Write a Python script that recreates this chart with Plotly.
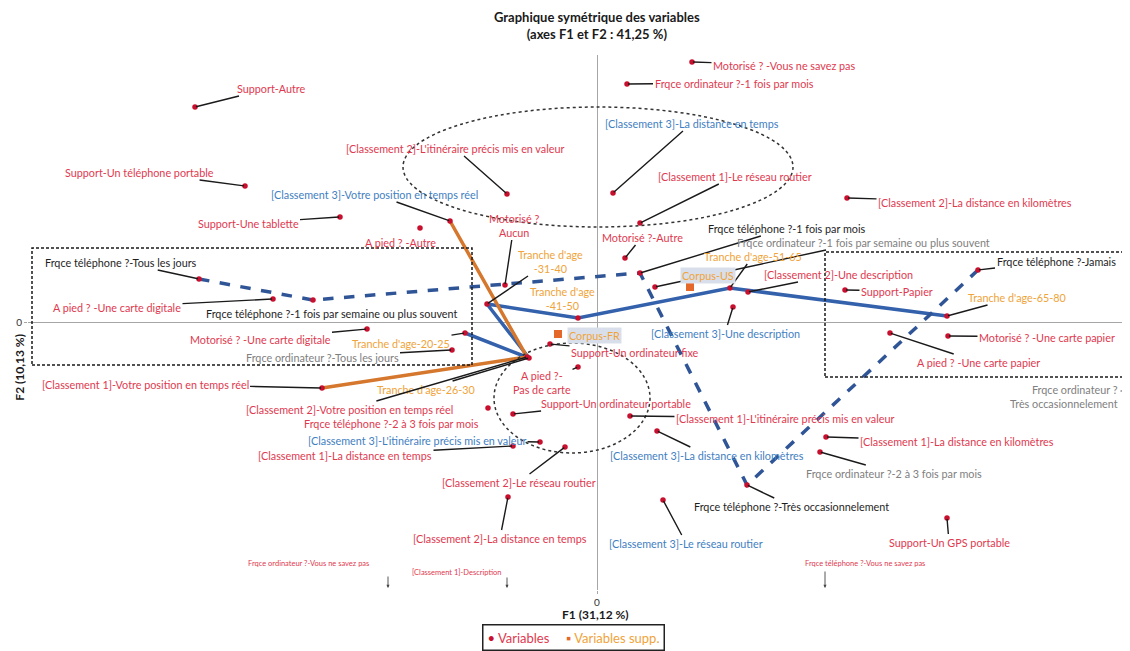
import plotly.graph_objects as go

# Active variables: label, F1, F2
var_labels = [
    "Motorisé ? -Vous ne savez pas",
    "Frqce ordinateur ?-1 fois par mois",
    "Support-Autre",
    "[Classement 3]-La distance en temps",
    "[Classement 2]-L'itinéraire précis mis en valeur",
    "Support-Un téléphone portable",
    "[Classement 1]-Le réseau routier",
    "[Classement 3]-Votre position en temps réel",
    "[Classement 2]-La distance en kilomètres",
    "Support-Une tablette",
    "A pied ? -Autre",
    "Motorisé ? -Aucun",
    "Motorisé ?-Autre",
    "Frqce téléphone ?-1 fois par mois",
    "Frqce ordinateur ?-1 fois par semaine ou plus souvent",
    "Tranche d'age-51-65",
    "[Classement 2]-Une description",
    "Support-Papier",
    "Frqce téléphone ?-Jamais",
    "Tranche d'age-65-80",
    "Frqce téléphone ?-Tous les jours",
    "A pied ? -Une carte digitale",
    "Frqce téléphone ?-1 fois par semaine ou plus souvent",
    "Tranche d'age-31-40",
    "Tranche d'age-41-50",
    "[Classement 3]-Une description",
    "Motorisé ? -Une carte digitale",
    "Tranche d'age-20-25",
    "Frqce ordinateur ?-Tous les jours",
    "Support-Un ordinateur fixe",
    "Motorisé ? -Une carte papier",
    "A pied ? -Une carte papier",
    "[Classement 1]-Votre position en temps réel",
    "Tranche d'age-26-30",
    "[Classement 2]-Votre position en temps réel",
    "A pied ?-Pas de carte",
    "Frqce téléphone ?-2 à 3 fois par mois",
    "Support-Un ordinateur portable",
    "[Classement 1]-L'itinéraire précis mis en valeur",
    "[Classement 3]-L'itinéraire précis mis en valeur",
    "[Classement 1]-La distance en temps",
    "[Classement 3]-La distance en kilomètres",
    "[Classement 1]-La distance en kilomètres",
    "Frqce ordinateur ?-2 à 3 fois par mois",
    "[Classement 2]-Le réseau routier",
    "Frqce téléphone ?-Très occasionnelement",
    "[Classement 2]-La distance en temps",
    "[Classement 3]-Le réseau routier",
    "Support-Un GPS portable",
]
var_f1 = [0.475, 0.150, -2.010, 0.080, -0.450, -1.760, 0.215, -0.735, 1.250, -1.285,
          -0.885, -0.460, 0.140, 0.215, 0.290, 0.665, 0.755, 1.240, 1.905, 1.750,
          -1.990, -1.620, -1.420, -0.550, -0.095, 0.680, -1.150, -0.660, -0.725, -0.235,
          1.755, 1.465, -1.375, -0.340, -0.350, -0.095, -0.545, -0.420, 0.165, -0.285,
          -0.420, 0.300, 1.145, 1.115, -0.160, 0.750, -0.445, 0.330, 1.750]
var_f2 = [1.300, 1.190, 1.075, 0.645, 0.640, 0.680, 0.495, 0.505, 0.620, 0.525,
          0.470, 0.185, 0.320, 0.245, 0.175, 0.170, 0.150, 0.160, 0.260, 0.030,
          0.215, 0.115, 0.110, 0.090, 0.020, 0.075, -0.035, -0.055, -0.140, -0.110,
          -0.070, -0.055, -0.330, -0.180, -0.175, -0.225, -0.430, -0.460, -0.470, -0.600,
          -0.620, -0.545, -0.575, -0.650, -0.625, -0.815, -0.875, -0.890, -0.980]

# Supplementary variables
supp_labels = ["Corpus-US", "Corpus-FR"]
supp_f1 = [0.465, -0.195]
supp_f2 = [0.175, -0.060]

# Modalities lying outside the window (None = off the scale on that axis)
off_labels = ["Frqce ordinateur ?-Vous ne savez pas", "[Classement 1]-Description",
              "Frqce téléphone ?-Vous ne savez pas", "Frqce ordinateur ?-Très occasionnelement"]
off_f1 = [-1.045, -0.450, 1.140, None]
off_f2 = [None, None, None, -0.345]

# Ordered modalities joined by lines
age_path = ["Tranche d'age-20-25", "Tranche d'age-26-30", "Tranche d'age-31-40",
            "Tranche d'age-41-50", "Tranche d'age-51-65", "Tranche d'age-65-80"]
phone_path = ["Frqce téléphone ?-Tous les jours",
              "Frqce téléphone ?-1 fois par semaine ou plus souvent",
              "Frqce téléphone ?-1 fois par mois",
              "Frqce téléphone ?-Très occasionnelement",
              "Frqce téléphone ?-Jamais"]
position_path = ["[Classement 3]-Votre position en temps réel",
                 "[Classement 2]-Votre position en temps réel",
                 "[Classement 1]-Votre position en temps réel"]

# ---- styling / label placement (pixel offsets of the label centre) ----
COL = dict(r="#e0394f", b="#3f80c2", k="#1e1e1e", g="#808080", o="#f0a33a")
label_col = ["r", "r", "r", "b", "r", "r", "r", "b", "r", "r",
             "r", "r", "r", "k", "g", "o", "r", "r", "k", "o",
             "k", "r", "k", "o", "o", "b", "r", "o", "g", "r",
             "r", "r", "r", "o", "r", "r", "r", "r", "r", "b",
             "r", "b", "r", "g", "r", "k", "r", "b", "r"]
label_off = [(92, 3), (107, -1), (76, -19), (79, -70), (-52, -46), (-106, -14), (95, -47),
             (-76, -27), (128, 4), (-92, 6), (-20, 14), (9, -60), (17, -21), (147, -45),
             (208, -45), (23, -32), (90, -18), (52, 1), (78, -9), (70, -19), (-78, -17),
             (-156, 8), (18, 13), (63, -43), (-16, -20), (-8, 26), (-107, 10), (-64, 10),
             (-130, 7), (85, 8), (99, 1), (88, 29), (-177, -4), (-103, 31), (-178, 52),
             (-36, 15), (-97, 15), (103, -11), (155, 2), (-123, -2), (-168, 9), (50, 24),
             (131, 4), (74, 21), (-46, 35), (44, 21), (-8, 41), (23, 43), (2, 24)]
no_leader = {"A pied ? -Autre", "Frqce téléphone ?-1 fois par semaine ou plus souvent",
             "Tranche d'age-41-50", "Frqce téléphone ?-2 à 3 fois par mois"}
wrapped = {"Motorisé ? -Aucun": "Motorisé ?<br>Aucun",
           "Tranche d'age-31-40": "Tranche d'age<br>-31-40",
           "Tranche d'age-41-50": "Tranche d'age<br>-41-50",
           "A pied ?-Pas de carte": "A pied ?-<br>Pas de carte",
           "Frqce ordinateur ?-Très occasionnelement": "Frqce ordinateur ?<br>Très occasionnelement"}

FONT = "Lato, 'Liberation Sans', sans-serif"
FS = 10.8
XR = [-2.845, 2.655]
YR = [-1.34, 1.335]
BLUE = "#2f5597"
ORANGE = "#d5772c"
NB = "\u00a0"

pos = dict(zip(var_labels, zip(var_f1, var_f2)))

fig = go.Figure()

for path, color, dash in [(age_path, "#3461ab", "solid"), (phone_path, BLUE, "dash"),
                          (position_path, ORANGE, "solid")]:
    fig.add_trace(go.Scatter(
        x=[pos[p][0] for p in path], y=[pos[p][1] for p in path],
        mode="lines", line=dict(color=color, width=3.5, dash=dash),
        showlegend=False, hoverinfo="skip"))

fig.add_trace(go.Scatter(
    x=var_f1, y=var_f2, mode="markers", text=var_labels,
    marker=dict(color="#c8102e", size=5.5), name="Variables", showlegend=False))
fig.add_trace(go.Scatter(
    x=supp_f1, y=supp_f2, mode="markers", text=supp_labels,
    marker=dict(color="#e4682a", size=8, symbol="square"),
    name="Variables supp.", showlegend=False))

ann = []
for name, x, y, (dx, dy), c in zip(var_labels, var_f1, var_f2, label_off, label_col):
    font = dict(family=FONT, size=FS, color=COL[c])
    text = wrapped.get(name, name)
    if name in no_leader:
        ann.append(dict(x=x, y=y, text=text, showarrow=False, xshift=dx, yshift=-dy, font=font))
    else:
        ann.append(dict(x=x, y=y, text=text, showarrow=True, ax=dx, ay=dy, arrowhead=0,
                        arrowwidth=1.4, arrowcolor="#1a1a1a", standoff=1, font=font))

supp_off = [(18, -12), (36, 1)]
for name, x, y, (dx, dy) in zip(supp_labels, supp_f1, supp_f2, supp_off):
    ann.append(dict(x=x, y=y, text=name, showarrow=False, xshift=dx, yshift=-dy,
                    bgcolor="#d9dfea", font=dict(family=FONT, size=FS, color="#f0a33a")))

# off-scale modalities: small arrow + label
off_style = [dict(arrow=(0, -13), shift=(-80, 25), col="r", size=7.5, anchor="center"),
             dict(arrow=(0, -12), shift=(-50, 16), col="r", size=7.5, anchor="center"),
             dict(arrow=(0, -18), shift=(40, 25), col="r", size=7.5, anchor="center"),
             dict(arrow=(-9, 0), shift=(-8, -5), col="g", size=FS, anchor="right")]
for name, x, y, st in zip(off_labels, off_f1, off_f2, off_style):
    xx = XR[1] if x is None else x
    yy = YR[0] + 0.01 if y is None else y
    head = 0 if st["arrow"][1] == 0 else 2
    ann.append(dict(x=xx, y=yy, text="", showarrow=True, ax=st["arrow"][0], ay=st["arrow"][1],
                    arrowhead=head, arrowsize=0.7, arrowwidth=0.9, arrowcolor="#444"))
    ann.append(dict(x=xx, y=yy, text=wrapped.get(name, name), showarrow=False,
                    xshift=st["shift"][0], yshift=st["shift"][1], xanchor=st["anchor"],
                    align="right" if st["anchor"] == "right" else "center",
                    font=dict(family=FONT, size=st["size"], color=COL[st["col"]])))

# title, axis titles and legend box
ann.append(dict(xref="paper", yref="paper", x=0.517, y=1.02, xanchor="center", yanchor="bottom",
                text="<b>Graphique symétrique des variables<br>(axes F1 et F2 : 41,25 %)</b>",
                showarrow=False, font=dict(family=FONT, size=13, color="#1a1a1a")))
ann.append(dict(xref="paper", yref="paper", x=0.516, y=-0.046, xanchor="center", yanchor="middle",
                text="<b>F1 (31,12 %)</b>",
                showarrow=False, font=dict(family=FONT, size=12, color="#1a1a1a")))
ann.append(dict(xref="paper", yref="paper", x=-0.0075, y=0.417, xanchor="center", yanchor="middle",
                text="<b>F2 (10,13 %)</b>", textangle=-90, showarrow=False,
                font=dict(family=FONT, size=12, color="#1a1a1a")))
legend_text = ("<span style='color:#c8102e'>•</span><span style='color:#e0394f'>" + NB + "Variables</span>"
               + NB * 5 + "<span style='color:#e4682a'>▪</span><span style='color:#f0a33a'>" + NB
               + "Variables supp.</span>")
ann.append(dict(xref="paper", yref="paper", x=0.496, y=-0.088, xanchor="center", yanchor="middle",
                text=legend_text, showarrow=False, bordercolor="#222", borderwidth=1.5, borderpad=4,
                font=dict(family=FONT, size=13)))

shapes = [
    dict(type="rect", x0=-2.825, x1=-0.625, y0=-0.215, y1=0.37,
         line=dict(color="#1a1a1a", width=1.5, dash="3px,2px")),
    dict(type="rect", x0=1.14, x1=2.65, y0=-0.275, y1=0.35,
         line=dict(color="#1a1a1a", width=1.5, dash="3px,2px")),
    dict(type="circle", x0=-0.97, x1=0.98, y0=0.475, y1=1.075,
         line=dict(color="#333", width=1.5, dash="dot")),
    dict(type="circle", x0=-0.515, x1=0.265, y0=-0.655, y1=-0.105,
         line=dict(color="#333", width=1.5, dash="dot")),
]

axis_common = dict(showgrid=False, zeroline=True, zerolinecolor="#a6a6a6", zerolinewidth=1.3,
                   tickvals=[0], ticktext=["0"], ticks="outside", ticklen=3, tickcolor="#a6a6a6",
                   showline=False, automargin=False,
                   tickfont=dict(family=FONT, size=10, color="#333"))

# the page adds an 8 px body margin, so the figure is 8 px smaller and shifted
fig.update_layout(
    width=1122, height=643,
    margin=dict(l=20, r=2, t=47, b=61),
    plot_bgcolor="white", paper_bgcolor="white",
    xaxis=dict(range=XR, **axis_common),
    yaxis=dict(range=YR, **axis_common),
    annotations=ann,
    shapes=shapes,
    showlegend=False,
)

fig.write_html("out.html")
